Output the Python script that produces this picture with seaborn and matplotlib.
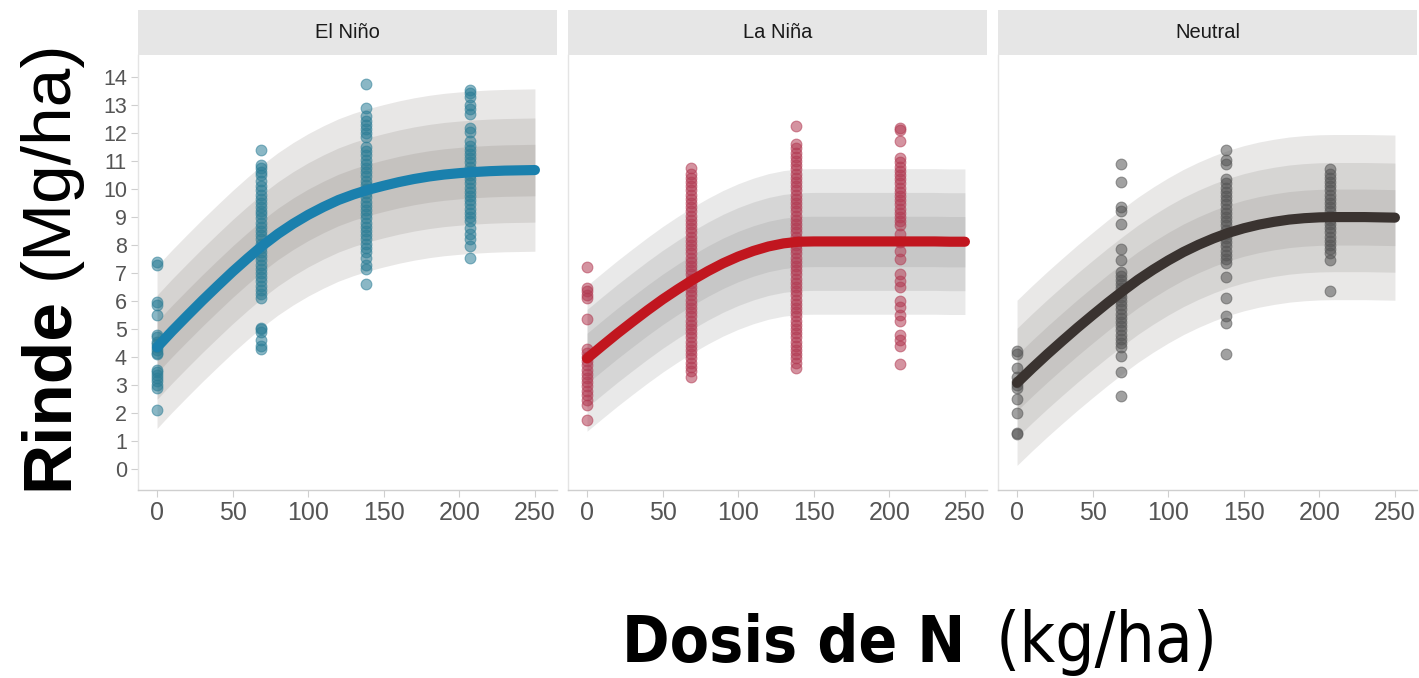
import matplotlib
matplotlib.use("Agg")
import matplotlib.pyplot as plt
import seaborn as sns
import pandas as pd
import numpy as np

# ---------------- data ----------------
panels = ["El Niño", "La Niña", "Neutral"]
doses = [0, 69, 138, 207]

# fitted response curves (Rinde, Mg/ha) along N dose
curve_x = [0, 10, 20, 30, 40, 50, 60, 70, 80, 90, 100, 110, 120, 130, 140, 150,
           160, 170, 180, 190, 200, 210, 220, 230, 240, 250]
curve_elnino = [4.35, 4.93, 5.48, 6.02, 6.54, 7.05, 7.53, 7.99, 8.40, 8.76, 9.08,
                9.36, 9.61, 9.81, 9.98, 10.12, 10.25, 10.36, 10.45, 10.52, 10.57,
                10.61, 10.64, 10.66, 10.67, 10.68]
curve_lanina = [3.95, 4.40, 4.84, 5.26, 5.67, 6.06, 6.42, 6.76, 7.07, 7.35, 7.59,
                7.79, 7.95, 8.06, 8.12, 8.13, 8.13, 8.13, 8.13, 8.13, 8.13, 8.13,
                8.13, 8.13, 8.12, 8.12]
curve_neutral = [3.08, 3.60, 4.10, 4.58, 5.05, 5.50, 5.94, 6.36, 6.76, 7.12, 7.45,
                 7.75, 8.01, 8.24, 8.44, 8.60, 8.73, 8.83, 8.91, 8.96, 8.99, 9.00,
                 9.00, 9.00, 8.99, 8.98]

# half widths of the nested intervals (inner, middle, outer)
band_elnino = [0.92, 1.86, 2.90]
band_lanina = [0.90, 1.75, 2.60]
band_neutral = [1.00, 1.95, 2.95]

# observed yields per dose
elnino_d0 = [7.4, 7.3, 5.95, 5.85, 5.5, 4.8, 4.7, 4.55, 4.45, 4.35, 4.25, 4.15, 4.1,
             3.55, 3.45, 3.35, 3.25, 3.15, 3.0, 2.9, 2.1]
elnino_d69 = [11.4, 10.85, 10.75, 10.6, 10.5, 10.3, 10.1, 9.95, 9.8, 9.65, 9.5, 9.35,
              9.2, 9.1, 8.95, 8.8, 8.65, 8.5, 8.35, 8.2, 8.05, 7.9, 7.75, 7.6, 7.45,
              7.3, 7.15, 7.0, 6.85, 6.7, 6.55, 6.4, 6.25, 6.1, 5.05, 5.0, 4.9, 4.6,
              4.4, 4.3]
elnino_d138 = [13.75, 12.9, 12.6, 12.45, 12.3, 12.15, 12.0, 11.85, 11.5, 11.35, 11.2,
               11.05, 10.9, 10.75, 10.6, 10.45, 10.3, 10.15, 10.0, 9.85, 9.7, 9.55,
               9.4, 9.25, 9.1, 8.95, 8.8, 8.65, 8.5, 8.35, 8.2, 8.05, 7.9, 7.75,
               7.55, 7.3, 7.15, 6.6]
elnino_d207 = [13.55, 13.45, 13.3, 13.0, 12.85, 12.7, 12.2, 12.05, 11.7, 11.55, 11.4,
               11.25, 11.1, 10.95, 10.8, 10.65, 10.5, 10.35, 10.2, 10.05, 9.9, 9.75,
               9.6, 9.45, 9.3, 9.15, 9.0, 8.85, 8.6, 8.4, 8.2, 7.95, 7.55]

lanina_d0 = [7.2, 6.45, 6.35, 6.2, 6.1, 5.35, 4.3, 4.15, 4.0, 3.85, 3.7, 3.55, 3.4,
             3.25, 3.1, 2.95, 2.8, 2.65, 2.45, 2.3, 1.75]
lanina_d69 = [10.75, 10.55, 10.4, 10.25, 10.1, 9.95, 9.8, 9.65, 9.5, 9.35, 9.2, 9.05,
              8.9, 8.75, 8.6, 8.45, 8.3, 8.15, 8.0, 7.85, 7.7, 7.55, 7.4, 7.25, 7.1,
              6.95, 6.8, 6.65, 6.5, 6.35, 6.2, 6.05, 5.9, 5.75, 5.6, 5.45, 5.3, 5.15,
              5.0, 4.85, 4.7, 4.55, 4.4, 4.25, 4.1, 3.95, 3.8, 3.65, 3.5, 3.3]
lanina_d138 = [12.25, 11.6, 11.45, 11.3, 11.15, 11.0, 10.85, 10.7, 10.55, 10.4, 10.25,
               10.1, 9.95, 9.8, 9.65, 9.5, 9.35, 9.2, 9.05, 8.9, 8.75, 8.6, 8.45, 8.3,
               8.15, 8.0, 7.85, 7.7, 7.55, 7.4, 7.25, 7.1, 6.95, 6.8, 6.65, 6.5, 6.35,
               6.2, 6.05, 5.9, 5.75, 5.6, 5.45, 5.3, 5.15, 5.0, 4.85, 4.7, 4.55, 4.4,
               4.25, 4.1, 3.95, 3.8, 3.6]
lanina_d207 = [12.2, 12.1, 11.7, 11.1, 10.95, 10.8, 10.65, 10.5, 10.35, 10.2, 10.05,
               9.9, 9.75, 9.6, 9.45, 9.3, 9.15, 9.0, 8.85, 8.7, 8.4, 8.1, 7.8, 7.5,
               6.95, 6.7, 6.5, 6.0, 5.8, 5.5, 5.3, 4.8, 4.6, 4.4, 3.75]

neutral_d0 = [4.2, 4.1, 3.6, 3.3, 3.1, 3.0, 2.9, 2.5, 2.0, 1.3, 1.25]
neutral_d69 = [10.9, 10.25, 9.35, 9.2, 8.75, 7.85, 7.45, 7.05, 6.9, 6.75, 6.6, 6.45,
               6.3, 6.15, 6.0, 5.85, 5.7, 5.55, 5.4, 5.25, 5.1, 4.95, 4.8, 4.65, 4.5,
               4.35, 4.05, 3.45, 2.6]
neutral_d138 = [11.4, 11.05, 10.9, 10.35, 10.2, 10.05, 9.9, 9.75, 9.6, 9.45, 9.3,
                9.15, 9.0, 8.85, 8.7, 8.55, 8.4, 8.25, 8.1, 7.95, 7.8, 7.65, 7.5,
                7.35, 6.85, 6.1, 5.45, 5.2, 4.1]
neutral_d207 = [10.7, 10.55, 10.4, 10.25, 10.1, 9.95, 9.8, 9.65, 9.5, 9.35, 9.2,
                9.05, 8.9, 8.75, 8.6, 8.45, 8.3, 8.15, 8.0, 7.85, 7.7, 7.45, 6.35]

x_ticks = [0, 50, 100, 150, 200, 250]
y_ticks = list(range(0, 15))

# ---------------- tidy tables ----------------
obs_groups = {
    "El Niño": [elnino_d0, elnino_d69, elnino_d138, elnino_d207],
    "La Niña": [lanina_d0, lanina_d69, lanina_d138, lanina_d207],
    "Neutral": [neutral_d0, neutral_d69, neutral_d138, neutral_d207],
}
rows = []
for p in panels:
    for d, vals in zip(doses, obs_groups[p]):
        rows += [{"panel": p, "dosis": d, "rinde": v} for v in vals]
obs = pd.DataFrame(rows)

curves = {"El Niño": curve_elnino, "La Niña": curve_lanina, "Neutral": curve_neutral}
bands = {"El Niño": band_elnino, "La Niña": band_lanina, "Neutral": band_neutral}
fit = pd.concat([pd.DataFrame({"panel": p, "dosis": curve_x, "rinde": curves[p]})
                 for p in panels], ignore_index=True)

# ---------------- styling ----------------
sns.set_theme(style="white")
plt.rcParams["font.family"] = ["Liberation Sans", "DejaVu Sans"]

point_colors = {"El Niño": "#2b7d96", "La Niña": "#b23a52", "Neutral": "#555555"}
line_colors = {"El Niño": "#1a80ad", "La Niña": "#c1161f", "Neutral": "#3a3330"}
band_colors = {"El Niño": "#7a716c", "La Niña": "#7e7e7e", "Neutral": "#7d7875"}

W, H = 1419, 678
fig = plt.figure(figsize=(W / 100, H / 100), dpi=100)

lefts = [138, 568, 998]
pw = 419
top_px, bot_px = 55, 490
strip_top = 10

for i, p in enumerate(panels):
    ax = fig.add_axes([lefts[i] / W, 1 - bot_px / H, pw / W, (bot_px - top_px) / H])
    cur = np.array(curves[p])
    for hw in bands[p][::-1]:
        ax.fill_between(curve_x, cur - hw, cur + hw, color=band_colors[p],
                        alpha=0.17, linewidth=0, zorder=1)
    sub = obs[obs["panel"] == p]
    sns.scatterplot(data=sub, x="dosis", y="rinde", ax=ax, s=60,
                    color=point_colors[p], alpha=0.55,
                    edgecolor=point_colors[p], linewidth=0.8, zorder=2, legend=False)
    sns.lineplot(data=fit[fit["panel"] == p], x="dosis", y="rinde", ax=ax,
                 color=line_colors[p], linewidth=7.3, zorder=3,
                 solid_capstyle="round", solid_joinstyle="round")
    ax.set_xlim(-12.6, 264.6)
    ax.set_ylim(-0.75, 14.79)
    ax.set_xticks(x_ticks)
    ax.set_yticks(y_ticks)
    ax.set_xlabel("")
    ax.set_ylabel("")
    for s in ["top", "right"]:
        ax.spines[s].set_visible(False)
    ax.spines["bottom"].set_color("#cfcfcf")
    ax.spines["left"].set_color("#e4e4e4")
    ax.spines["bottom"].set_linewidth(1.0)
    ax.spines["left"].set_linewidth(1.0)
    ax.tick_params(axis="x", which="major", bottom=True, length=5, width=0.8,
                   color="#cfcfcf", labelsize=18, labelcolor="#555555", pad=3)
    if i == 0:
        ax.tick_params(axis="y", which="major", left=True, length=5, width=0.8,
                       color="#cfcfcf", labelsize=15.5, labelcolor="#555555", pad=3)
    else:
        ax.tick_params(axis="y", left=False, labelleft=False)
    ax.grid(False)

    # facet strip
    sax = fig.add_axes([lefts[i] / W, 1 - top_px / H, pw / W, (top_px - strip_top) / H])
    sax.set_facecolor("#e6e6e6")
    sax.set_xticks([])
    sax.set_yticks([])
    for s in sax.spines.values():
        s.set_visible(False)
    sax.text(0.5, 0.5, p, ha="center", va="center", fontsize=14.5,
             color="#1a1a1a", transform=sax.transAxes)

# axis titles
renderer = fig.canvas.get_renderer()
ybase_x = 67 / W
t1 = fig.text(ybase_x, 1 - 490 / H, "Rinde", rotation=90, rotation_mode="anchor",
              ha="left", va="baseline", fontsize=50, fontweight="bold", color="black")
ext = t1.get_window_extent(renderer)
fig.text(ybase_x, (ext.y1 + 18) / H, "(Mg/ha)", rotation=90, rotation_mode="anchor",
         ha="left", va="baseline", fontsize=50, color="black")

xfam = ["DejaVu Sans"]
xsize = 55
t2 = fig.text(622 / W, 1 - 662 / H, "Dosis de N", ha="left", va="baseline",
              fontsize=xsize, fontweight="bold", family=xfam, fontstretch="condensed",
              color="black")
w0 = t2.get_window_extent(renderer).width
xsize = xsize * 343 / w0
t2.set_fontsize(xsize)
ext2 = t2.get_window_extent(renderer)
t3 = fig.text((ext2.x1 + 30) / W, 1 - 662 / H, "(kg/ha)", ha="left", va="baseline",
              fontsize=xsize, family=xfam, fontstretch="condensed", color="black")
w1 = t3.get_window_extent(renderer).width
t3.set_fontsize(xsize * 222 / w1)

fig.savefig("out.png", dpi=100, facecolor="white")
